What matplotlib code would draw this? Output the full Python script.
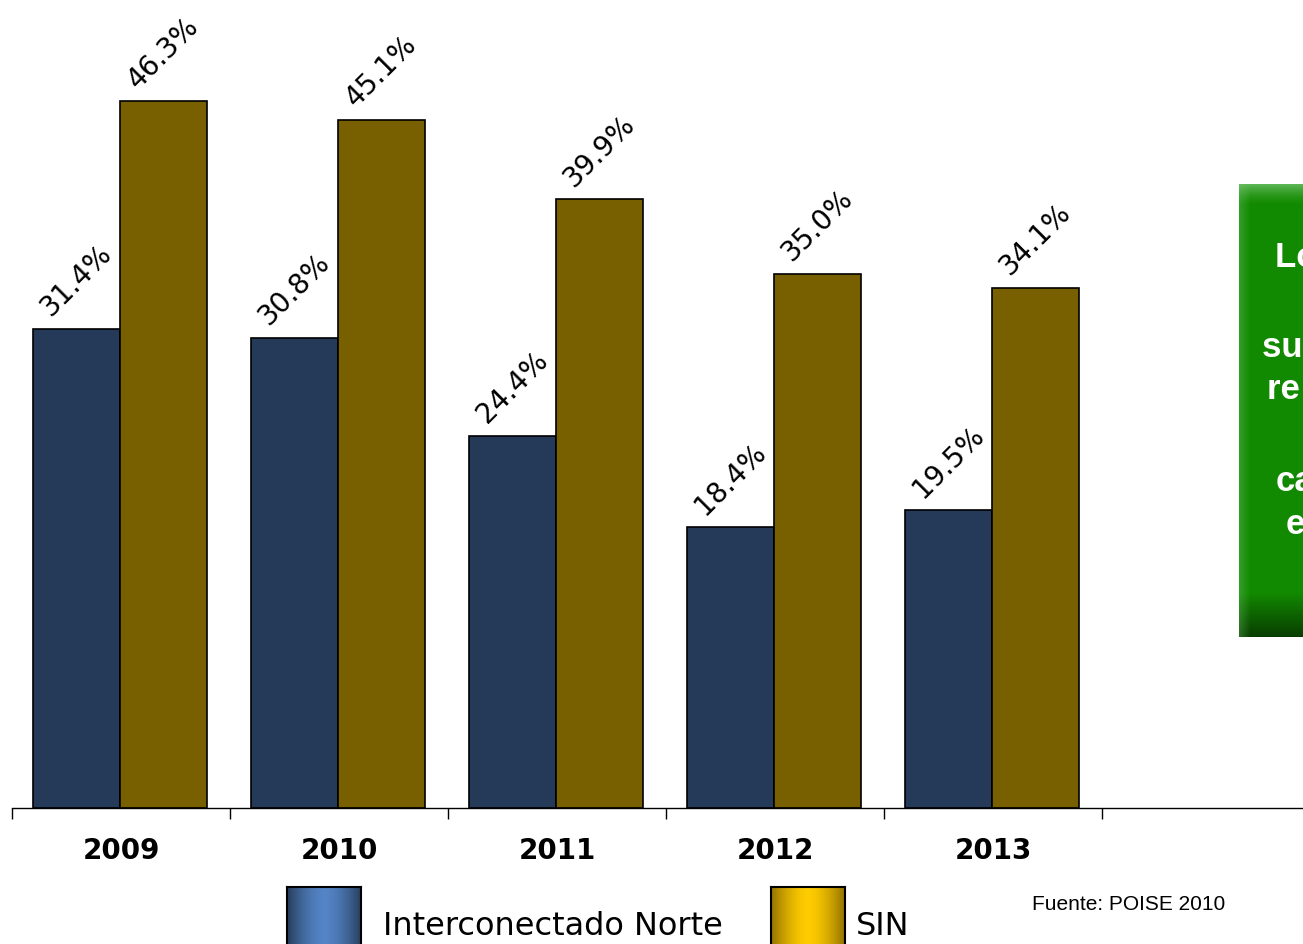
import matplotlib
matplotlib.use("Agg")
from matplotlib import pyplot as plt
import numpy as np

# Data
years = ["2009", "2010", "2011", "2012", "2013"]
norte = [31.4, 30.8, 24.4, 18.4, 19.5]
sin = [46.3, 45.1, 39.9, 35.0, 34.1]
series_names = ["Interconectado Norte", "SIN"]
box_lines = ["Los márgenes", "", "superiores a", "re requeridos", "", "capacidad", "en exceso"]
source_note = "Fuente: POISE 2010"

W, H = 1303, 945
fig = plt.figure(figsize=(W / 100, H / 100), dpi=100)
fig.patch.set_facecolor("white")

# main axes: 6 category slots, the last one empty and partly off the canvas
ax = fig.add_axes([12 / W, 136 / H, 1308 / W, 760 / H])
x = np.arange(len(years))
bw = 0.40
b1 = ax.bar(x - 0.205, norte, bw, color="#243a58", edgecolor="black", linewidth=1.2)
b2 = ax.bar(x + 0.195, sin, bw, color="#786000", edgecolor="black", linewidth=1.2)

for bars in (b1, b2):
    for rect in bars:
        v = rect.get_height()
        ax.annotate(f"{v:.1f}%", (rect.get_x() + rect.get_width() / 2, v),
                    xytext=(0, 6), textcoords="offset points",
                    rotation=45, ha="center", va="bottom",
                    fontsize=20, family="DejaVu Sans", color="black")

ax.set_xlim(-0.5, 5.5)
ax.set_ylim(0, 49.8)
for s in ("left", "right", "top"):
    ax.spines[s].set_visible(False)
ax.spines["bottom"].set_linewidth(1.0)
ax.set_yticks([])
ax.set_xticks(np.arange(-0.5, 6.0, 1.0))
ax.set_xticklabels([])
ax.tick_params(axis="x", which="major", length=8, width=1, direction="out")
ax.set_xticks(x, minor=True)
ax.set_xticklabels(years, minor=True, fontsize=20, fontweight="bold", family="DejaVu Sans")
ax.tick_params(axis="x", which="minor", length=0, pad=20)

# green callout box on the right (cut by the figure edge)
gax = fig.add_axes([1239 / W, (H - 638) / H, 220 / W, 453 / H])
nh, nw = 453, 220
main = np.array([0.07, 0.54, 0.0])
img = np.tile(main, (nh, nw, 1))
top = np.linspace(1, 0, 22)[:, None] ** 1.5
img[:22] = img[:22] * (1 - top[..., None] * 0.55) + np.array([0.6, 0.85, 0.6]) * top[..., None] * 0.55
bot = np.linspace(0, 1, 45)[:, None]
img[-45:] = img[-45:] * (1 - 0.55 * bot[..., None])
left = np.linspace(1, 0, 12)[None, :]
img[:, :12] = img[:, :12] * (1 - left[..., None] * 0.3) + np.array([0.5, 0.8, 0.5]) * left[..., None] * 0.3
gax.imshow(np.clip(img, 0, 1), aspect="auto", extent=[0, 1, 0, 1], interpolation="bilinear")
gax.axis("off")

line_x = [1275, 0, 1262, 1267, 0, 1276, 1286]
line_y = [258, 0, 348, 390, 0, 482, 525]
for txt, lx, ly in zip(box_lines, line_x, line_y):
    if txt:
        fig.text(lx / W, 1 - ly / H, txt, color="white", fontsize=25, fontweight="bold",
                 family="Liberation Sans", va="center", ha="left")

# legend with gradient swatches
def swatch(left_px, edge, centre):
    sax = fig.add_axes([left_px / W, -0.02, 74 / W, (H - 888) / H + 0.02])
    t = np.linspace(-1, 1, 74)
    w = (1 - np.abs(t) ** 1.6)[None, :, None]
    g = np.array(edge)[None, None, :] * (1 - w) + np.array(centre)[None, None, :] * w
    sax.imshow(np.repeat(g, 10, axis=0), aspect="auto", extent=[0, 1, 0, 1])
    sax.set_xticks([])
    sax.set_yticks([])
    for s in sax.spines.values():
        s.set_linewidth(1.5)
        s.set_color("black")

swatch(287, [0.15, 0.24, 0.36], [0.33, 0.52, 0.78])
swatch(771, [0.58, 0.45, 0.0], [1.0, 0.80, 0.0])
fig.text(383 / W, 1 - 927 / H, series_names[0], fontsize=23, family="DejaVu Sans", va="center")
fig.text(856 / W, 1 - 927 / H, series_names[1], fontsize=23, family="DejaVu Sans", va="center")

fig.text(1032 / W, 1 - 905 / H, source_note, fontsize=15, family="Liberation Sans", va="center")

fig.savefig("out.png", dpi=100)
